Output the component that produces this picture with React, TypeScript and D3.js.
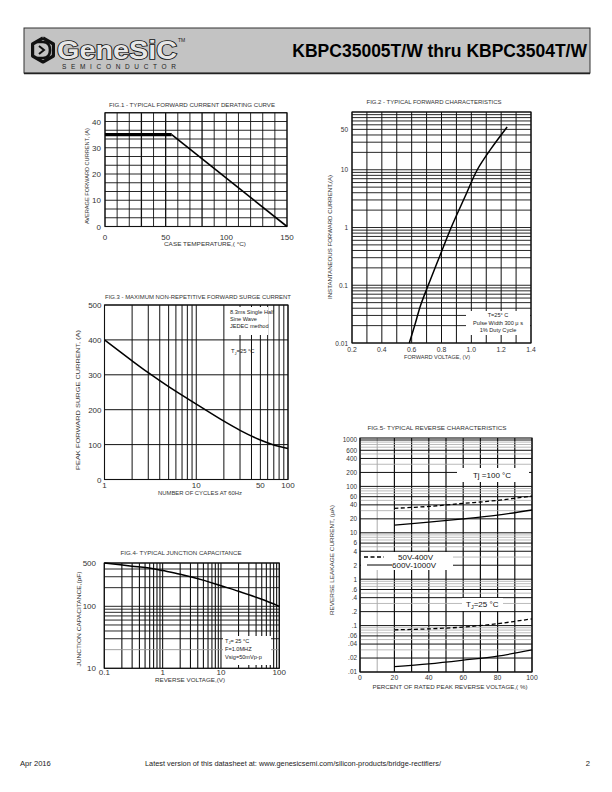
import React from "react";
import * as d3 from "d3";

const FONT = "'Liberation Sans', Arial, Helvetica, sans-serif";

// ---------- Fig.1 : derating curve ----------
const fig1Temp = [0, 55, 150];
const fig1Current = [35, 35, 0];
const fig1XTicks = [0, 50, 100, 150];
const fig1YTicks = [0, 10, 20, 30, 40];

// ---------- Fig.2 : forward characteristics ----------
const fig2Voltage = [0.584, 0.62, 0.66, 0.711, 0.784, 0.865, 0.955, 1.04, 1.13, 1.24];
const fig2Current = [0.01, 0.02, 0.045, 0.1, 0.3, 1, 3.3, 10, 22.7, 55];
const fig2XTicks = [0.2, 0.4, 0.6, 0.8, 1.0, 1.2, 1.4];
const fig2XTickLabels = ["0.2", "0.4", "0.6", "0.8", "1.0", "1.2", "1.4"];
const fig2YTicks = [0.01, 0.1, 1, 10, 50];
const fig2YTickLabels = ["0.01", "0.1", "1", "10", "50"];

// ---------- Fig.3 : surge current ----------
const fig3Cycles = [1, 2, 3, 5, 10, 20, 30, 50, 70, 100];
const fig3Current = [400, 340, 306, 266, 216, 167, 141, 113, 99, 89];
const fig3XTicks = [1, 10, 50, 100];
const fig3YTicks = [0, 100, 200, 300, 400, 500];

// ---------- Fig.4 : junction capacitance ----------
const fig4Voltage = [0.1, 0.3, 0.69, 1, 2, 5.3, 10, 20, 50, 100];
const fig4Cap = [500, 445, 404, 377, 330, 260, 215, 175, 130, 100];
const fig4XTicks = [0.1, 1, 10, 100];
const fig4XTickLabels = ["0.1", "1", "10", "100"];
const fig4YTicks = [10, 100, 500];

// ---------- Fig.5 : reverse characteristics ----------
const fig5Percent = [20, 40, 60, 80, 100];
const fig5Hot400 = [33.7, 37, 43, 50, 62];
const fig5Hot1000 = [14.7, 17, 19.9, 24, 31];
const fig5Cold400 = [0.081, 0.085, 0.093, 0.11, 0.14];
const fig5Cold1000 = [0.013, 0.015, 0.018, 0.022, 0.03];
const fig5XTicks = [0, 20, 40, 60, 80, 100];
const fig5YTicks = [1000, 600, 400, 200, 100, 60, 40, 20, 10, 6, 4, 2, 1, 0.6, 0.4, 0.2, 0.1, 0.06, 0.04, 0.02, 0.01];
const fig5YTickLabels = ["1000", "600", "400", "200", "100", "60", "40", "20", "10", "6", "4", "2", "1", ".6", ".4", ".2", ".1", ".06", ".04", ".02", ".01"];

function logGrid(lo: number, hi: number): number[] {
  const out: number[] = [];
  for (let e = Math.floor(Math.log10(lo)); e <= Math.ceil(Math.log10(hi)); e++) {
    for (let k = 1; k < 10; k++) {
      const v = k * Math.pow(10, e);
      if (v >= lo * 0.999 && v <= hi * 1.001) out.push(v);
    }
  }
  return out;
}

const G = "#111";

function Title({ x, y, text, len }: { x: number; y: number; text: string; len: number }) {
  return (
    <text x={x} y={y} fontSize={5.4} textAnchor="middle" textLength={len} lengthAdjust="spacingAndGlyphs" fill="#333">
      {text}
    </text>
  );
}

function VTitle({ x, y, text, len }: { x: number; y: number; text: string; len: number }) {
  return (
    <text transform={`translate(${x},${y}) rotate(-90)`} fontSize={5.4} textAnchor="middle" textLength={len} lengthAdjust="spacingAndGlyphs" fill="#333">
      {text}
    </text>
  );
}

function Fig1() {
  const x = d3.scaleLinear().domain([0, 150]).range([105, 287]);
  const y = d3.scaleLinear().domain([0, 40]).range([226.5, 121.5]);
  const top = 130 / 3;
  const pts = fig1Temp.map((t, i) => [t, fig1Current[i]] as [number, number]);
  const line = d3.line<[number, number]>().x((d) => x(d[0])).y((d) => y(d[1]));
  return (
    <g>
      <Title x={192} y={107} text="FIG.1 - TYPICAL FORWARD CURRENT DERATING CURVE" len={166} />
      {d3.range(0, 151, 10).map((v) => (
        <line key={"v" + v} x1={x(v)} x2={x(v)} y1={y(0)} y2={y(top)} stroke={G} strokeWidth={v === 50 || v === 30 || v === 80 ? 1.3 : 0.9} />
      ))}
      {d3.range(0, 14).map((i) => (
        <line key={"h" + i} x1={x(0)} x2={x(150)} y1={y((i * 10) / 3)} y2={y((i * 10) / 3)} stroke={G} strokeWidth={0.9} />
      ))}
      <rect x={x(0)} y={y(top)} width={x(150) - x(0)} height={y(0) - y(top)} fill="none" stroke={G} strokeWidth={1.1} />
      <path d={line(pts.slice(0, 2)) || ""} stroke="#000" strokeWidth={3.2} fill="none" />
      <path d={line(pts.slice(1)) || ""} stroke="#000" strokeWidth={1.6} fill="none" />
      {fig1YTicks.map((v) => (
        <text key={"yt" + v} x={101} y={y(v) + 3} fontSize={8} textAnchor="end" fill="#333">{v}</text>
      ))}
      {fig1XTicks.map((v) => (
        <text key={"xt" + v} x={x(v)} y={239.5} fontSize={8} textAnchor="middle" fill="#333">{v}</text>
      ))}
      <Title x={205} y={246} text="CASE TEMPERATURE,( °C)" len={82} />
      <VTitle x={88.5} y={176} text="AVERAGE FORWARD CURRENT, (A)" len={96} />
    </g>
  );
}

function Fig2() {
  const x = d3.scaleLinear().domain([0.2, 1.4]).range([352, 531]);
  const y = d3.scaleLog().domain([0.01, 100]).range([343, 112]);
  const line = d3.line<number>().x((d, i) => x(fig2Voltage[i])).y((d) => y(d)).curve(d3.curveCatmullRom.alpha(0.5));
  return (
    <g>
      <Title x={434} y={104} text="FIG.2 - TYPICAL FORWARD CHARACTERISTICS" len={135} />
      {d3.range(0, 13).map((i) => {
        const v = 0.2 + i * 0.1;
        return <line key={"v" + i} x1={x(v)} x2={x(v)} y1={y(0.01)} y2={y(100)} stroke={G} strokeWidth={1} />;
      })}
      {logGrid(0.01, 100).map((v, i) => (
        <line key={"h" + i} x1={x(0.2)} x2={x(1.4)} y1={y(v)} y2={y(v)} stroke={G} strokeWidth={0.9} />
      ))}
      <rect x={x(0.2)} y={y(100)} width={x(1.4) - x(0.2)} height={y(0.01) - y(100)} fill="none" stroke={G} strokeWidth={1.1} />
      <path d={line(fig2Current) || ""} stroke="#000" strokeWidth={1.5} fill="none" />
      <rect x={466} y={311} width={64} height={24} fill="#fff" />
      <g fontSize={5.6} textAnchor="middle" fill="#222">
        <text x={498} y={317}>T=25° C</text>
        <text x={498} y={324.5}>Pulse Width 300 μ s</text>
        <text x={498} y={332}>1% Duty Cycle</text>
      </g>
      {fig2YTicks.map((v, i) => (
        <text key={"yt" + i} x={348} y={y(v) + 2.5} fontSize={6.5} textAnchor="end" fill="#333">{fig2YTickLabels[i]}</text>
      ))}
      {fig2XTicks.map((v, i) => (
        <text key={"xt" + i} x={x(v)} y={352} fontSize={6.8} textAnchor="middle" fill="#333">{fig2XTickLabels[i]}</text>
      ))}
      <Title x={437} y={358.5} text="FORWARD VOLTAGE, (V)" len={66} />
      <VTitle x={332} y={237} text="INSTANTANEOUS FORWARD CURRENT,(A)" len={124} />
    </g>
  );
}

function Fig3() {
  const x = d3.scaleLog().domain([1, 100]).range([104.5, 288]);
  const y = d3.scaleLinear().domain([0, 500]).range([479.5, 305]);
  const line = d3.line<number>().x((d, i) => x(fig3Cycles[i])).y((d) => y(d)).curve(d3.curveCatmullRom.alpha(0.5));
  return (
    <g>
      <Title x={198} y={298.5} text="FIG.3 - MAXIMUM NON-REPETITIVE FORWARD SURGE CURRENT" len={186} />
      {logGrid(1, 100).map((v, i) => (
        <line key={"v" + i} x1={x(v)} x2={x(v)} y1={y(0)} y2={y(500)} stroke={G} strokeWidth={1} />
      ))}
      {fig3YTicks.map((v) => (
        <line key={"h" + v} x1={x(1)} x2={x(100)} y1={y(v)} y2={y(v)} stroke={G} strokeWidth={1} />
      ))}
      <rect x={x(1)} y={y(500)} width={x(100) - x(1)} height={y(0) - y(500)} fill="none" stroke={G} strokeWidth={1.1} />
      <path d={line(fig3Current) || ""} stroke="#000" strokeWidth={1.5} fill="none" />
      <rect x={228} y={307} width={40} height={28} fill="#fff" />
      <g fontSize={5.6} fill="#222">
        <text x={230} y={313.5}>8.3ms Single Half</text>
        <text x={230} y={320.5}>Sine Wave</text>
        <text x={230} y={327.5}>JEDEC method</text>
      </g>
      <text x={231} y={353} fontSize={5.8} fill="#222">
        T<tspan fontSize={4} dy={1.5}>J</tspan><tspan dy={-1.5}>=25 °C</tspan>
      </text>
      {fig3YTicks.map((v) => (
        <text key={"yt" + v} x={101.5} y={y(v) + 3} fontSize={8} textAnchor="end" fill="#333">{v}</text>
      ))}
      {fig3XTicks.map((v) => (
        <text key={"xt" + v} x={x(v)} y={487.5} fontSize={8} textAnchor="middle" fill="#333">{v}</text>
      ))}
      <Title x={200} y={495} text="NUMBER OF CYCLES AT 60Hz" len={84} />
      <VTitle x={80} y={400} text="PEAK FORWARD SURGE CURRENT, (A)" len={140} />
    </g>
  );
}

function Fig4() {
  const x = d3.scaleLog().domain([0.1, 100]).range([104.3, 279.3]);
  const y = d3.scaleLog().domain([10, 500]).range([668.3, 563]);
  const line = d3.line<number>().x((d, i) => x(fig4Voltage[i])).y((d) => y(d)).curve(d3.curveCatmullRom.alpha(0.5));
  return (
    <g>
      <Title x={181} y={555} text="FIG.4- TYPICAL JUNCTION CAPACITANCE" len={121} />
      {logGrid(0.1, 100).map((v, i) => (
        <line key={"v" + i} x1={x(v)} x2={x(v)} y1={y(10)} y2={y(500)} stroke={G} strokeWidth={1.1} />
      ))}
      {logGrid(10, 500).map((v, i) => (
        <line key={"h" + i} x1={x(0.1)} x2={x(100)} y1={y(v)} y2={y(v)} stroke={v === 20 ? "#999" : G} strokeWidth={0.9} />
      ))}
      <rect x={x(0.1)} y={y(500)} width={x(100) - x(0.1)} height={y(10) - y(500)} fill="none" stroke={G} strokeWidth={1.1} />
      <path d={line(fig4Cap) || ""} stroke="#000" strokeWidth={1.5} fill="none" />
      <rect x={223} y={636} width={48} height={29} fill="#fff" />
      <g fontSize={5.6} fill="#222">
        <text x={225} y={643}>T<tspan fontSize={4} dy={1.2}>J</tspan><tspan dy={-1.2}>= 25 °C</tspan></text>
        <text x={225} y={651}>F=1.0MHZ</text>
        <text x={225} y={659}>Vsig=50mVp-p</text>
      </g>
      {fig4YTicks.map((v) => (
        <text key={"yt" + v} x={96} y={y(v) + 3} fontSize={8} textAnchor="end" fill="#333">{v}</text>
      ))}
      {fig4XTicks.map((v, i) => (
        <text key={"xt" + i} x={x(v)} y={675} fontSize={8} textAnchor="middle" fill="#333">{fig4XTickLabels[i]}</text>
      ))}
      <Title x={190} y={682} text="REVERSE VOLTAGE,(V)" len={70} />
      <VTitle x={81} y={619} text="JUNCTION CAPACITANCE,(pF)" len={95} />
    </g>
  );
}

function Fig5() {
  const x = d3.scaleLinear().domain([0, 100]).range([360, 532]);
  const y = d3.scaleLog().domain([0.01, 1000]).range([672, 440]);
  const top = 438;
  const mk = (vals: number[]) =>
    d3.line<number>().x((d, i) => x(fig5Percent[i])).y((d) => y(d)).curve(d3.curveCatmullRom.alpha(0.5))(vals) || "";
  return (
    <g>
      <Title x={437} y={430} text="FIG.5- TYPICAL REVERSE CHARACTERISTICS" len={139} />
      {d3.range(0, 101, 10).map((v) => (
        <line key={"v" + v} x1={x(v)} x2={x(v)} y1={y(0.01)} y2={top} stroke={v === 10 ? "#888" : G} strokeWidth={v === 10 ? 0.7 : 1.2} />
      ))}
      {logGrid(0.01, 1000).map((v, i) => {
        const k = Math.round(v / Math.pow(10, Math.floor(Math.log10(v) + 1e-9)));
        const gray = k >= 7 || k === 3 || k === 5;
        return <line key={"h" + i} x1={x(0)} x2={x(100)} y1={y(v)} y2={y(v)} stroke={gray ? "#aaa" : G} strokeWidth={gray ? 0.8 : 1} />;
      })}
      <rect x={x(0)} y={top} width={x(100) - x(0)} height={y(0.01) - top} fill="none" stroke={G} strokeWidth={1.1} />
      <path d={mk(fig5Hot400)} stroke="#000" strokeWidth={1.3} strokeDasharray="4 2.5" fill="none" />
      <path d={mk(fig5Hot1000)} stroke="#000" strokeWidth={1.3} fill="none" />
      <path d={mk(fig5Cold400)} stroke="#000" strokeWidth={1.3} strokeDasharray="4 2.5" fill="none" />
      <path d={mk(fig5Cold1000)} stroke="#000" strokeWidth={1.3} fill="none" />
      <rect x={457} y={468} width={72} height={14} fill="#fff" />
      <text x={492} y={478} fontSize={8} textAnchor="middle" fill="#111">Tj =100 °C</text>
      <rect x={361} y={552} width={92} height={18} fill="#fff" />
      <line x1={364} x2={384} y1={557} y2={557} stroke="#000" strokeWidth={1.3} strokeDasharray="4 2.5" />
      <text x={398} y={560} fontSize={8} fill="#111">50V-400V</text>
      <line x1={367} x2={392} y1={565} y2={565} stroke="#000" strokeWidth={1} />
      <text x={392} y={567.5} fontSize={8} fill="#111">600V-1000V</text>
      <rect x={462} y={598} width={41} height={13} fill="#fff" />
      <text x={466} y={607} fontSize={8} fill="#111">
        T<tspan fontSize={5.5} dy={1.5}>J</tspan><tspan dy={-1.5}>=25 °C</tspan>
      </text>
      {fig5YTicks.map((v, i) => (
        <text key={"yt" + i} x={357} y={y(v) + 2.3} fontSize={6.4} textAnchor="end" fill="#333">{fig5YTickLabels[i]}</text>
      ))}
      {fig5XTicks.map((v) => (
        <text key={"xt" + v} x={x(v)} y={679.5} fontSize={6.8} textAnchor="middle" fill="#333">{v}</text>
      ))}
      <Title x={450} y={689} text="PERCENT OF RATED PEAK REVERSE VOLTAGE,( %)" len={155} />
      <VTitle x={334} y={560} text="REVERSE LEAKAGE CURRENT, (μA)" len={110} />
    </g>
  );
}

function Header() {
  const hex = d3.range(6).map((i) => {
    const a = (Math.PI / 3) * i - Math.PI / 2;
    return [43 + 12 * Math.cos(a), 50 + 12 * Math.sin(a)] as [number, number];
  });
  const hexPath = d3.line<[number, number]>()(hex.concat([hex[0]])) || "";
  return (
    <g>
      <rect x={24} y={28} width={566} height={45} fill="#c3c3c3" stroke="#333" strokeWidth={1} />
      <line x1={24} x2={590} y1={73.5} y2={73.5} stroke="#222" strokeWidth={1.5} />
      <path d={hexPath} fill="none" stroke="#111" strokeWidth={3.2} strokeLinejoin="round" />
      <path d="M37,42 L43,42 Q50,42 50,50 Q50,58 43,58 L37,58" fill="none" stroke="#111" strokeWidth={2.6} />
      <path d="M39,46 L44,50 L39,54" fill="none" stroke="#111" strokeWidth={2} />
      <text x={57} y={59} fontSize={25} fontWeight="bold" fill="#e6e6e6" stroke="#111" strokeWidth={1.7} textLength={120} lengthAdjust="spacingAndGlyphs" style={{ paintOrder: "stroke" }}>
        GeneSiC
      </text>
      <text x={178} y={42} fontSize={5} fill="#222">TM</text>
      <text x={62} y={69} fontSize={6.5} fill="#222" textLength={114} lengthAdjust="spacing">SEMICONDUCTOR</text>
      <text x={587} y={57} fontSize={17.5} fontWeight="bold" textAnchor="end" fill="#000">
        KBPC35005T/W thru KBPC3504T/W
      </text>
    </g>
  );
}

export default function App() {
  return (
    <svg width={612} height={792} viewBox="0 0 612 792" style={{ position: "absolute", left: 0, top: 0, background: "#fff" }} fontFamily={FONT}>
      <rect x={0} y={0} width={612} height={792} fill="#fff" />
      <Header />
      <Fig1 />
      <Fig2 />
      <Fig3 />
      <Fig4 />
      <Fig5 />
      <g fontSize={7.6} fill="#222">
        <text x={20} y={766}>Apr 2016</text>
        <text x={145} y={766} textLength={296} lengthAdjust="spacingAndGlyphs">Latest version of this datasheet at: www.genesicsemi.com/silicon-products/bridge-rectifiers/</text>
        <text x={590} y={766} textAnchor="end">2</text>
      </g>
    </svg>
  );
}
